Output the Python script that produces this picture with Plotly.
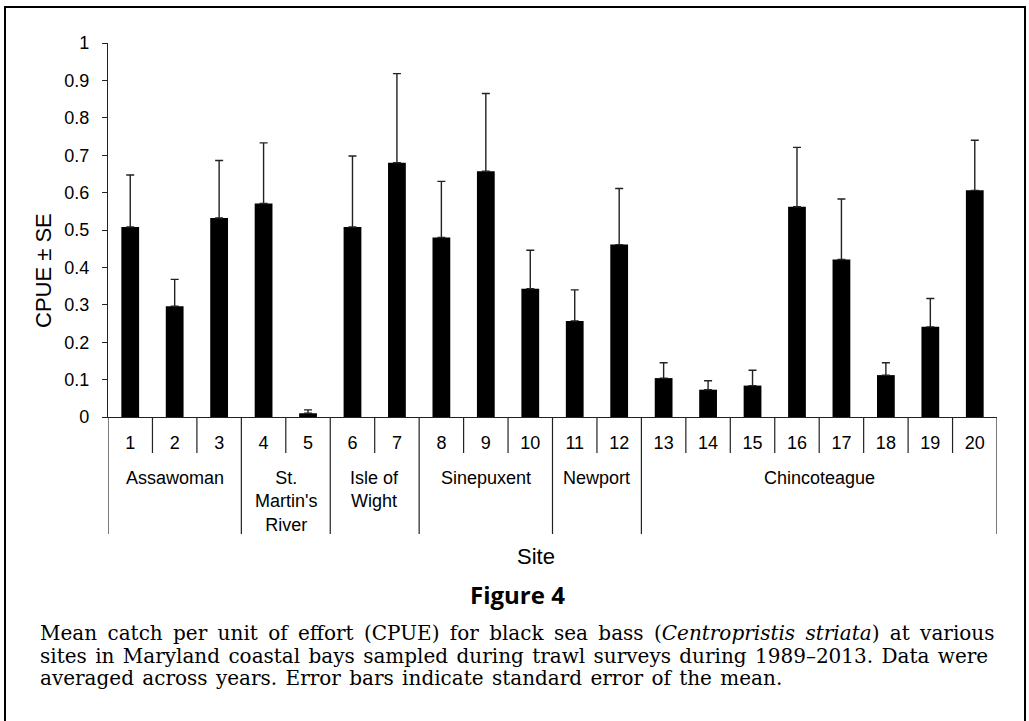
import plotly.graph_objects as go

# Mean CPUE and standard error per trawl site
sites = list(range(1, 21))
cpue = [0.508, 0.296, 0.532, 0.571, 0.010, 0.508, 0.680, 0.480, 0.657, 0.343,
        0.257, 0.461, 0.104, 0.073, 0.084, 0.562, 0.421, 0.112, 0.241, 0.606]
se = [0.139, 0.072, 0.154, 0.162, 0.009, 0.190, 0.238, 0.150, 0.208, 0.103,
      0.083, 0.150, 0.041, 0.024, 0.041, 0.159, 0.162, 0.033, 0.076, 0.134]

# Coastal bay each block of sites belongs to
bays = ["Assawoman", "St.<br>Martin's<br>River", "Isle of<br>Wight",
        "Sinepuxent", "Newport", "Chincoteague"]
bay_sizes = [3, 2, 2, 3, 2, 8]

y_ticks = [0, 0.1, 0.2, 0.3, 0.4, 0.5, 0.6, 0.7, 0.8, 0.9, 1]

caption_lines = [
    "Mean catch per unit of effort (CPUE) for black sea bass (<i>Centropristis striata</i>) at various",
    "sites in Maryland coastal bays sampled during trawl surveys during 1989\u20132013. Data were",
    "averaged across years. Error bars indicate standard error of the mean.",
]
# extra inter-word space so the full caption lines run edge to edge
caption_gaps = ["\u2009", "\u200a", "\u200a"]

W, H = 1029, 721
L, R, T, B = 108, 32, 43, 304
PW, PH = W - L - R, H - T - B


def xp(px):
    return (px - L) / PW


def yp(py):
    return (H - B - py) / PH


SANS = "Arial, Liberation Sans, sans-serif"
LINE = "#222222"

fig = go.Figure()
fig.add_trace(go.Bar(
    x=sites, y=cpue, width=0.4,
    marker=dict(color="black", line=dict(width=0)),
    error_y=dict(type="data", array=se, arrayminus=[0] * len(se), symmetric=False,
                 color=LINE, thickness=1.4, width=4),
))

shapes = []
# category dividers below the axis
n = len(sites)
for i in range(n + 1):
    shapes.append(dict(type="line", xref="x", yref="paper", x0=0.5 + i, x1=0.5 + i,
                       y0=0, y1=yp(453), line=dict(color=LINE, width=1.2)))
# bay dividers and bay names
annotations = []
start = 0.5
bounds = [start]
for name, size in zip(bays, bay_sizes):
    end = start + size
    bounds.append(end)
    annotations.append(dict(x=(start + end) / 2, xref="x", y=yp(466), yref="paper",
                            xanchor="center", yanchor="top", text=name, showarrow=False,
                            font=dict(family=SANS, size=18, color="black")))
    start = end
for b in bounds:
    shapes.append(dict(type="line", xref="x", yref="paper", x0=b, x1=b,
                       y0=yp(453), y1=yp(534), line=dict(color=LINE, width=1.2)))

# outer frame (open at the bottom edge of the page)
shapes.append(dict(type="rect", xref="paper", yref="paper", x0=xp(5), x1=xp(1025),
                   y0=yp(740), y1=yp(7), line=dict(color="black", width=2)))

annotations += [
    dict(text="CPUE \u00b1 SE", x=xp(43), y=yp(271), xref="paper", yref="paper",
         xanchor="center", yanchor="middle", textangle=-90, showarrow=False,
         font=dict(family=SANS, size=22, color="black")),
    dict(text="Site", x=xp(536), y=yp(556), xref="paper", yref="paper",
         xanchor="center", yanchor="middle", showarrow=False,
         font=dict(family=SANS, size=22, color="black")),
    dict(text="<b>Figure 4</b>", x=xp(517), y=yp(594), xref="paper", yref="paper",
         xanchor="center", yanchor="middle", showarrow=False,
         font=dict(family="Open Sans, sans-serif", size=24, color="black")),
]
for k, (line, gap) in enumerate(zip(caption_lines, caption_gaps)):
    annotations.append(dict(text=line.replace(" ", " " + gap) if gap else line,
                            x=xp(38), y=yp(633 + 22.5 * k), xref="paper",
                            yref="paper", xanchor="left", yanchor="middle", showarrow=False,
                            font=dict(family="DejaVu Serif, serif", size=20, color="black")))

fig.update_layout(
    width=W, height=H,
    margin=dict(l=L, r=R, t=T, b=B, autoexpand=False),
    paper_bgcolor="white", plot_bgcolor="white",
    showlegend=False, bargap=0.6,
    shapes=shapes, annotations=annotations,
    xaxis=dict(range=[0.5, 20.5], tickvals=sites, ticktext=[str(s) for s in sites],
               ticks="", showgrid=False, zeroline=False, showline=True,
               linecolor=LINE, linewidth=1.4, ticklabelstandoff=9,
               tickfont=dict(family=SANS, size=18, color="black"), fixedrange=True),
    yaxis=dict(range=[0, 1], tickvals=y_ticks, ticktext=[f"{v:g}" for v in y_ticks],
               ticks="outside", ticklen=5, tickcolor=LINE, tickwidth=1.2,
               showgrid=False, zeroline=False, showline=True, linecolor=LINE,
               linewidth=1.4, ticklabelstandoff=9,
               tickfont=dict(family=SANS, size=18, color="black"), fixedrange=True),
)

fig.write_html("out.html")
